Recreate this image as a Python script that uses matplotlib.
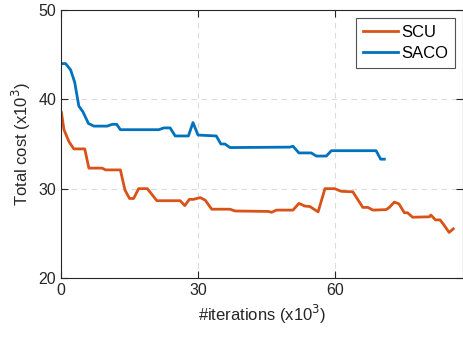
import numpy as np
from matplotlib import pyplot as plt

plt.rcParams['font.family'] = ['Liberation Sans', 'DejaVu Sans']

# SCU curve (x in 1e3 iterations, cost in 1e3)
scu_x = [0.1, 0.65, 1.75, 2.8, 5.2, 6.1, 9.0, 9.75, 13.0, 14.0, 15.0, 15.9, 17.0, 18.9,
         21.0, 26.1, 27.1, 28.1, 29.0, 30.5, 31.6, 33.0, 37.0, 38.1, 45.4, 46.1, 47.2,
         50.8, 52.1, 53.4, 54.5, 56.3, 57.8, 59.9, 61.4, 63.9, 66.1, 67.2, 68.3, 71.2,
         71.9, 73.0, 74.0, 75.2, 75.9, 77.0, 80.7, 81.0, 82.0, 83.0, 83.7, 85.0, 85.9]
scu_y = [38.5, 36.6, 35.25, 34.45, 34.45, 32.3, 32.3, 32.1, 32.1, 29.85, 28.9, 28.9, 30.0, 30.0,
         28.65, 28.65, 28.1, 28.8, 28.8, 29.0, 28.7, 27.7, 27.7, 27.5, 27.45, 27.35, 27.6,
         27.6, 28.35, 28.05, 28.0, 27.4, 30.0, 30.0, 29.7, 29.65, 27.9, 27.9, 27.6, 27.65,
         27.9, 28.5, 28.3, 27.3, 27.3, 26.8, 26.85, 27.05, 26.5, 26.5, 26.05, 25.1, 25.5]

# SACO curve
saco_x = [0.1, 1.0, 2.1, 3.0, 3.9, 4.8, 6.0, 7.2, 10.1, 11.2, 12.2, 13.0, 21.4, 22.5, 23.9,
          25.0, 27.9, 28.9, 30.0, 34.0, 35.0, 35.9, 37.0, 50.1, 50.8, 52.1, 54.8, 55.9,
          58.1, 59.2, 69.0, 70.0, 70.8]
saco_y = [44.0, 44.0, 43.3, 41.9, 39.25, 38.6, 37.3, 37.0, 37.0, 37.2, 37.2, 36.6, 36.6, 36.8, 36.8,
          35.9, 35.9, 37.4, 36.0, 35.9, 35.0, 35.0, 34.6, 34.65, 34.75, 34.0, 34.0, 33.65,
          33.65, 34.25, 34.25, 33.3, 33.3]

xticks = [0, 30, 60]
yticks = [20, 30, 40, 50]

fig = plt.figure(figsize=(4.64, 3.39), dpi=100)
ax = fig.add_axes([0.1315, 0.18, 0.866, 0.7905])

ax.plot(scu_x, scu_y, color='#D95319', lw=2, label='SCU')
ax.plot(saco_x, saco_y, color='#0072BD', lw=2, label='SACO')

ax.set_xlim(0, 88)
ax.set_ylim(20, 50)
ax.set_xticks(xticks)
ax.set_yticks(yticks)
ax.grid(True, ls=(0, (5, 4)), color='#dcdcdc', lw=0.8)
ax.set_axisbelow(True)
ax.tick_params(direction='in', top=True, right=True, labelsize=11.5, colors='#262626',
               length=5, width=0.8)
for s in ax.spines.values():
    s.set_color('#262626')
    s.set_linewidth(0.8)

ax.set_xlabel('#iterations (x10$^3$)', fontsize=12, color='#262626')
ax.set_ylabel('Total cost (x10$^3$)', fontsize=12, color='#262626')

leg = ax.legend(loc='upper right', fontsize=12, fancybox=False, handlelength=2.1,
                borderpad=0.4, labelspacing=0.35, handletextpad=0.2, borderaxespad=0.5)
leg.get_frame().set_edgecolor('#262626')
leg.get_frame().set_linewidth(0.8)

fig.savefig('out.png', dpi=100)
